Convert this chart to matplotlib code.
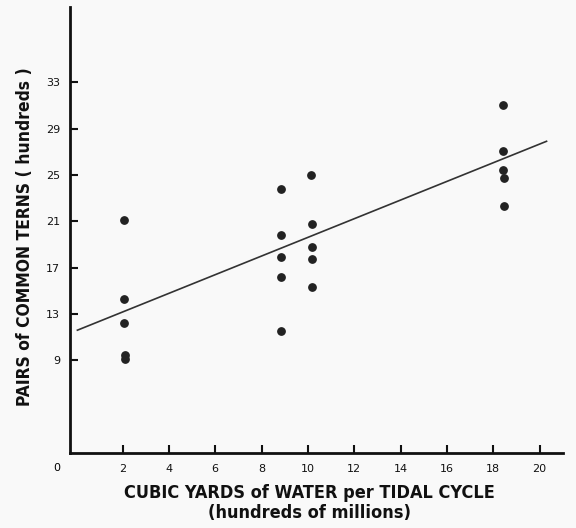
import matplotlib
matplotlib.use("Agg")
import matplotlib.pyplot as plt

# Data (x: hundreds of millions cu yd, y: hundreds of pairs)
x_vals = [2.05, 2.07, 2.07, 2.1, 2.1,
          8.85, 8.85, 8.85, 8.85, 8.85,
          10.15, 10.18, 10.18, 10.18, 10.18,
          18.4, 18.4, 18.4, 18.45, 18.45]
y_vals = [21.1, 14.25, 12.2, 9.5, 9.1,
          23.8, 19.8, 17.9, 16.2, 11.5,
          25.0, 20.8, 18.8, 17.7, 15.3,
          31.0, 27.05, 25.4, 24.7, 22.3]

line_x = [0.05, 20.3]
line_y = [11.6, 27.9]

x_ticks = [2, 4, 6, 8, 10, 12, 14, 16, 18, 20]
y_ticks = [9, 13, 17, 21, 25, 29, 33]

fig = plt.figure(figsize=(5.76, 5.28), dpi=100)
fig.patch.set_facecolor("#f9f9f9")
ax = fig.add_axes([0.1215, 0.142, 0.8555, 0.845])
ax.set_facecolor("#f9f9f9")

ax.scatter(x_vals, y_vals, s=28, color="#222222", zorder=3)
ax.plot(line_x, line_y, color="#333333", lw=1.2, zorder=2)

ax.set_xlim(-0.27, 21.0)
ax.set_ylim(1.0, 39.5)

for s in ["top", "right"]:
    ax.spines[s].set_visible(False)
for s in ["left", "bottom"]:
    ax.spines[s].set_linewidth(2.0)
    ax.spines[s].set_color("#111111")

ax.set_xticks(x_ticks)
ax.set_yticks(y_ticks)
ax.tick_params(direction="in", length=6, width=1.5, colors="#111111",
               labelsize=8, pad=8)
ax.tick_params(axis="y", pad=7)
for lab in ax.get_xticklabels() + ax.get_yticklabels():
    lab.set_fontfamily("DejaVu Sans")

ax.text(-0.85, -0.25, "0", fontsize=8, ha="center", va="center",
        transform=ax.transData, clip_on=False)

fig.text(0.538, 0.066, "CUBIC YARDS of WATER per TIDAL CYCLE", ha="center",
         va="center", fontsize=13, fontweight="bold", fontstretch="condensed",
         color="#111111")
fig.text(0.538, 0.028, "(hundreds of millions)", ha="center", va="center",
         fontsize=13, fontweight="bold", fontstretch="condensed",
         color="#111111")
fig.text(0.043, 0.551, "PAIRS of COMMON TERNS ( hundreds )", ha="center",
         va="center", rotation=90, fontsize=12.5, fontweight="bold",
         fontstretch="condensed", color="#111111")

fig.savefig("out.png", dpi=100, facecolor=fig.get_facecolor())
